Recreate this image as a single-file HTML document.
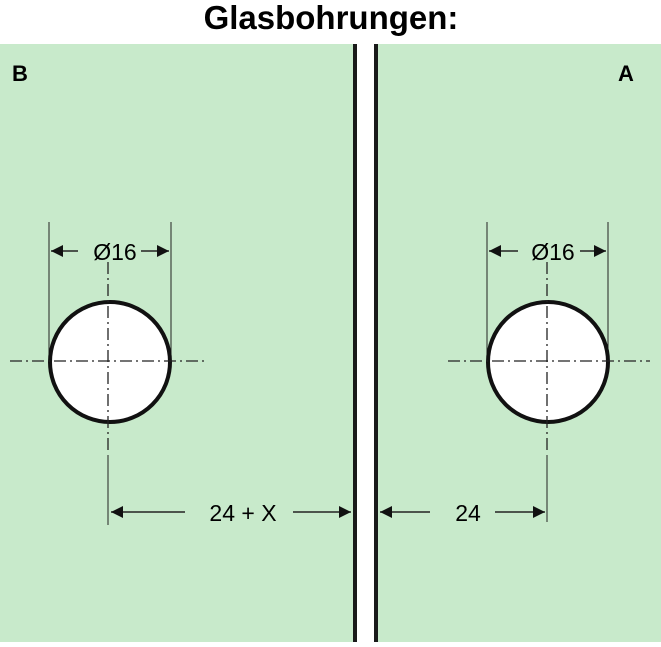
<!DOCTYPE html>
<html><head><style>
body{margin:0;background:#fff;}
</style></head><body>
<svg width="661" height="642" viewBox="0 0 661 642" xmlns="http://www.w3.org/2000/svg" font-family="Liberation Sans, Arial, sans-serif">
<defs>
<marker id="ar" viewBox="0 0 10 10" refX="10" refY="5" markerWidth="16" markerHeight="12" markerUnits="userSpaceOnUse" orient="auto-start-reverse">
<path d="M0,0 L10,5 L0,10 z" fill="#111"/></marker>
</defs>
<text x="331" y="29" font-size="33" font-weight="bold" text-anchor="middle" fill="#000">Glasbohrungen:</text>
<rect x="0" y="44" width="354" height="598" fill="#c8eacb"/>
<rect x="377" y="44" width="284" height="598" fill="#c8eacb"/>
<rect x="353" y="44" width="4" height="598" fill="#1a1a1a"/>
<rect x="374" y="44" width="4" height="598" fill="#1a1a1a"/>
<text x="12" y="81" font-size="22" font-weight="bold">B</text>
<text x="618" y="81" font-size="22" font-weight="bold">A</text>
<g stroke="#222" fill="none">
<line x1="49" y1="222" x2="49" y2="360" stroke-width="1"/>
<line x1="171" y1="222" x2="171" y2="360" stroke-width="1"/>
<line x1="51" y1="251" x2="78" y2="251" stroke-width="1.5" marker-start="url(#ar)"/>
<line x1="141" y1="251" x2="169" y2="251" stroke-width="1.5" marker-end="url(#ar)"/>
<circle cx="110" cy="362" r="60" fill="#fff" stroke="#111" stroke-width="4"/>
<line x1="10" y1="361" x2="208" y2="361" stroke-width="1.3" stroke-dasharray="12,4,2,4"/>
<line x1="108" y1="262" x2="108" y2="450" stroke-width="1.3" stroke-dasharray="12,4,2,4"/>
<line x1="108" y1="455" x2="108" y2="525" stroke-width="1"/>
<line x1="111" y1="512" x2="185" y2="512" stroke-width="1.5" marker-start="url(#ar)"/>
<line x1="293" y1="512" x2="351" y2="512" stroke-width="1.5" marker-end="url(#ar)"/>
<line x1="487" y1="222" x2="487" y2="360" stroke-width="1"/>
<line x1="608" y1="222" x2="608" y2="360" stroke-width="1"/>
<line x1="489" y1="251" x2="518" y2="251" stroke-width="1.5" marker-start="url(#ar)"/>
<line x1="580" y1="251" x2="606" y2="251" stroke-width="1.5" marker-end="url(#ar)"/>
<circle cx="548" cy="362" r="60" fill="#fff" stroke="#111" stroke-width="4"/>
<line x1="448" y1="361" x2="650" y2="361" stroke-width="1.3" stroke-dasharray="12,4,2,4"/>
<line x1="547" y1="262" x2="547" y2="450" stroke-width="1.3" stroke-dasharray="12,4,2,4"/>
<line x1="547" y1="455" x2="547" y2="522" stroke-width="1"/>
<line x1="380" y1="512" x2="430" y2="512" stroke-width="1.5" marker-start="url(#ar)"/>
<line x1="495" y1="512" x2="545" y2="512" stroke-width="1.5" marker-end="url(#ar)"/>
</g>
<text x="115" y="260" font-size="23" text-anchor="middle">Ø16</text>
<text x="553" y="260" font-size="23" text-anchor="middle">Ø16</text>
<text x="243" y="521" font-size="23" text-anchor="middle">24 + X</text>
<text x="468" y="521" font-size="23" text-anchor="middle">24</text>
</svg>
</body></html>
